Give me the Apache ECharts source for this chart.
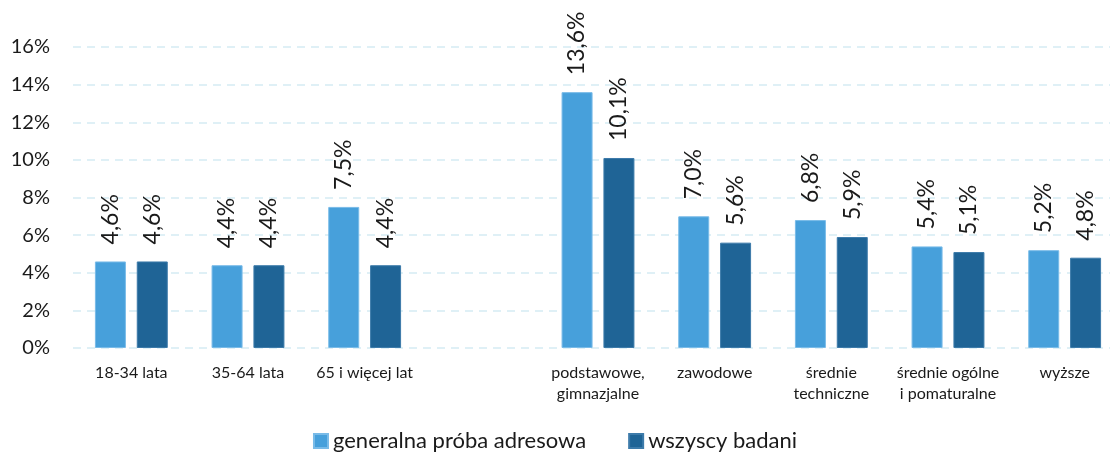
<!DOCTYPE html>
<html lang="pl">
<head>
    <meta charset="UTF-8">
    <title>Wykres</title>
    <script type="text/javascript" src="https://cdn.jsdelivr.net/npm/echarts@6/dist/echarts.min.js"></script>
    <style>
        html, body { margin: 0; padding: 0; background: #fff; }
        #main { width: 1110px; height: 453px; }
    </style>
</head>
<body>
<div id="main"></div>
<script type="text/javascript">
    // kategorie (pusta kategoria = przerwa miedzy grupami)
    var categories = ['18-34 lata', '35-64 lata', '65 i więcej lat', '',
        'podstawowe,\ngimnazjalne', 'zawodowe', 'średnie\ntechniczne', 'średnie ogólne\ni pomaturalne', 'wyższe'];
    var generalna = [4.6, 4.4, 7.5, null, 13.6, 7.0, 6.8, 5.4, 5.2];
    var wszyscy = [4.6, 4.4, 4.4, null, 10.1, 5.6, 5.9, 5.1, 4.8];
    var seriesNames = ['generalna próba adresowa', 'wszyscy badani'];

    var fontName = 'Lato';
    var textColor = '#1a1a1a';

    function labelFmt(p) {
        return p.value.toFixed(1).replace('.', ',') + '%';
    }

    var barLabel = {
        show: true,
        position: 'top',
        rotate: 90,
        align: 'left',
        verticalAlign: 'middle',
        distance: 17,
        fontFamily: fontName,
        fontSize: 23,
        color: textColor,
        formatter: labelFmt
    };

    var myChart = echarts.init(document.getElementById('main'));
    var option = {
        animation: false,
        grid: {
            left: 73,
            top: 47,
            width: 1050,
            height: 301,
            outerBoundsMode: 'none'
        },
        legend: {
            data: seriesNames,
            left: 'center',
            top: 425,
            icon: 'rect',
            itemWidth: 14,
            itemHeight: 14,
            itemGap: 42,
            textStyle: { fontFamily: fontName, fontSize: 22, color: textColor }
        },
        xAxis: {
            type: 'category',
            data: categories,
            axisLine: { show: false },
            axisTick: { show: false },
            axisLabel: {
                interval: 0,
                margin: 14,
                fontFamily: fontName,
                fontSize: 16,
                lineHeight: 21,
                color: textColor
            }
        },
        yAxis: {
            type: 'value',
            min: 0,
            max: 16,
            interval: 2,
            axisLine: { show: false },
            axisTick: { show: false },
            axisLabel: {
                margin: 23,
                fontFamily: fontName,
                fontSize: 20,
                color: textColor,
                formatter: '{value}%'
            },
            splitLine: {
                show: true,
                lineStyle: { color: '#D5EBF4', width: 1.5, type: [8, 6] }
            }
        },
        series: [
            {
                name: seriesNames[0],
                type: 'bar',
                data: generalna,
                barWidth: 31,
                barGap: '35%',
                itemStyle: { color: '#47A0DB', borderColor: '#79BBE8', borderWidth: 1 },
                label: barLabel
            },
            {
                name: seriesNames[1],
                type: 'bar',
                data: wszyscy,
                barWidth: 31,
                itemStyle: { color: '#1F6496', borderColor: '#3D7BAA', borderWidth: 1 },
                label: barLabel
            }
        ]
    };
    myChart.setOption(option);
</script>
</body>
</html>
